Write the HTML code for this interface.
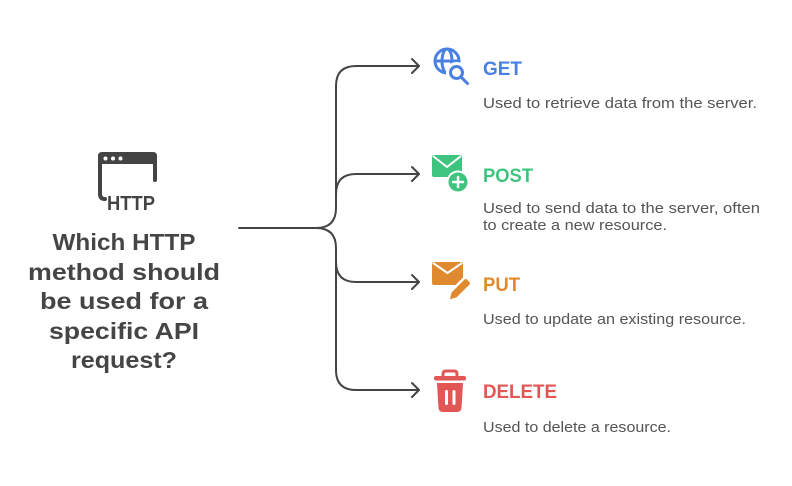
<!DOCTYPE html>
<html>
<head>
<meta charset="utf-8">
<style>
  html,body{margin:0;padding:0;background:#fff;}
  svg{display:block;}
  text{font-family:"Liberation Sans", Arial, sans-serif;}
</style>
</head>
<body>
<svg width="792" height="486" viewBox="0 0 792 486" xmlns="http://www.w3.org/2000/svg">
  <rect width="792" height="486" fill="#fff"/>

  <!-- Connectors -->
  <g fill="none" stroke="#444" stroke-width="2" stroke-linecap="round" stroke-linejoin="round">
    <path d="M239 228 H316 Q336 228 336 208 V86 Q336 66 356 66 H419"/>
    <path d="M316 228 Q336 228 336 248 V370 Q336 390 356 390 H419"/>
    <path d="M336 194 Q336 174 356 174 H419"/>
    <path d="M336 262 Q336 282 356 282 H419"/>
    <polyline points="412,59 419,66 412,73"/>
    <polyline points="412,167 419,174 412,181"/>
    <polyline points="412,275 419,282 412,289"/>
    <polyline points="412,383 419,390 412,397"/>
  </g>

  <!-- HTTP icon -->
  <g>
    <path d="M98 164 V156 Q98 152 102 152 H153 Q157 152 157 156 V164 Z" fill="#444"/>
    <rect x="98" y="162" width="4" height="2" fill="#444"/>
    <circle cx="105.5" cy="158.5" r="2" fill="#fff"/>
    <circle cx="113" cy="158.5" r="2" fill="#fff"/>
    <circle cx="120.5" cy="158.5" r="2" fill="#fff"/>
    <path d="M100 163 V194 Q100 199 105 199" fill="none" stroke="#444" stroke-width="4" stroke-linecap="round"/>
    <path d="M155 163 V180" fill="none" stroke="#444" stroke-width="4" stroke-linecap="round"/>
    <text x="107" y="210" font-size="20" font-weight="bold" fill="#444" textLength="48" lengthAdjust="spacingAndGlyphs">HTTP</text>
  </g>

  <!-- Question text -->
  <g fill="#454545" font-size="23" font-weight="bold" text-anchor="middle">
    <text x="124" y="250" textLength="143" lengthAdjust="spacingAndGlyphs">Which HTTP</text>
    <text x="124" y="280" textLength="192" lengthAdjust="spacingAndGlyphs">method should</text>
    <text x="124" y="309" textLength="168" lengthAdjust="spacingAndGlyphs">be used for a</text>
    <text x="124" y="339" textLength="150" lengthAdjust="spacingAndGlyphs">specific API</text>
    <text x="124" y="368" textLength="106" lengthAdjust="spacingAndGlyphs">request?</text>
  </g>

  <!-- GET icon -->
  <g fill="none" stroke="#4a80e2" stroke-width="3" stroke-linecap="round">
    <circle cx="447" cy="61" r="12"/>
    <ellipse cx="447" cy="61" rx="5" ry="12"/>
    <line x1="435" y1="61" x2="459" y2="61"/>
  </g>
  <circle cx="456.5" cy="72.5" r="10.5" fill="#fff"/>
  <g fill="none" stroke="#4a80e2" stroke-width="3" stroke-linecap="round">
    <circle cx="456.5" cy="72.5" r="6"/>
    <line x1="461" y1="77" x2="467.5" y2="83.5"/>
  </g>

  <!-- POST icon -->
  <rect x="432" y="155" width="30" height="22" rx="2" fill="#3ec47f"/>
  <polyline points="433,156 447,167 461,156" fill="none" stroke="#fff" stroke-width="2"/>
  <circle cx="458" cy="182" r="11.5" fill="#fff"/>
  <circle cx="458" cy="182" r="9.5" fill="#3ec47f"/>
  <path d="M458 177 V187 M453 182 H463" stroke="#fff" stroke-width="2.5" stroke-linecap="round"/>

  <!-- PUT icon -->
  <rect x="432" y="262" width="31" height="23" rx="2" fill="#e08a2f"/>
  <polyline points="433,263 447.5,273 462,263" fill="none" stroke="#fff" stroke-width="2"/>
  <g transform="translate(459,290) rotate(-45)">
    <rect x="-15" y="-6" width="30" height="12" fill="#fff"/>
    <path d="M-7 -3.5 H11 Q13 -3.5 13 -1.5 V1.5 Q13 3.5 11 3.5 H-7 L-13 0 Z" fill="#e08a2f"/>
  </g>

  <!-- DELETE icon -->
  <path d="M443 377 V374 Q443 371 446 371 H454 Q457 371 457 374 V377" fill="none" stroke="#e25656" stroke-width="3"/>
  <rect x="434" y="376" width="32" height="4.5" rx="2" fill="#e25656"/>
  <path d="M437 383 H463 L461.5 408 Q461 412 457 412 H443 Q439 412 438.5 408 Z" fill="#e25656"/>
  <rect x="445" y="390" width="3" height="15" rx="1.5" fill="#fff"/>
  <rect x="452.5" y="390" width="3" height="15" rx="1.5" fill="#fff"/>

  <!-- Labels -->
  <g font-size="19" font-weight="bold">
    <text x="483" y="75" fill="#4a80e2" textLength="39" lengthAdjust="spacingAndGlyphs">GET</text>
    <text x="483" y="182" fill="#3ec47f" textLength="50" lengthAdjust="spacingAndGlyphs">POST</text>
    <text x="483" y="291" fill="#e08a2f" textLength="37" lengthAdjust="spacingAndGlyphs">PUT</text>
    <text x="483" y="398" fill="#e25656" textLength="74" lengthAdjust="spacingAndGlyphs">DELETE</text>
  </g>

  <!-- Descriptions -->
  <g font-size="14.5" fill="#555">
    <text x="483" y="108" textLength="274" lengthAdjust="spacingAndGlyphs">Used to retrieve data from the server.</text>
    <text x="483" y="213" textLength="277" lengthAdjust="spacingAndGlyphs">Used to send data to the server, often</text>
    <text x="483" y="230" textLength="184" lengthAdjust="spacingAndGlyphs">to create a new resource.</text>
    <text x="483" y="324" textLength="263" lengthAdjust="spacingAndGlyphs">Used to update an existing resource.</text>
    <text x="483" y="432" textLength="188" lengthAdjust="spacingAndGlyphs">Used to delete a resource.</text>
  </g>
</svg>
</body>
</html>
